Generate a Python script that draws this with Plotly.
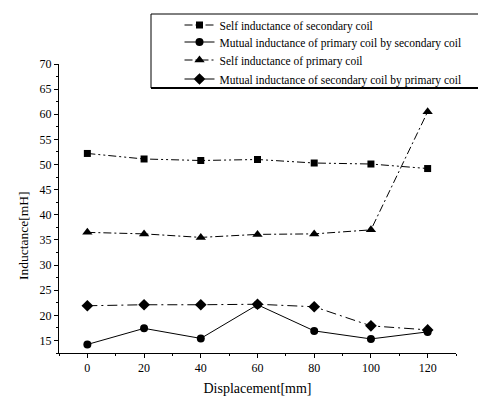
import plotly.graph_objects as go

displacement = [0, 20, 40, 60, 80, 100, 120]
self_secondary = [52.2, 51.1, 50.8, 51.0, 50.3, 50.1, 49.2]
mutual_primary_by_secondary = [14.2, 17.4, 15.4, 22.1, 16.9, 15.3, 16.7]
self_primary = [36.5, 36.2, 35.5, 36.1, 36.2, 37.0, 60.5]
mutual_secondary_by_primary = [21.9, 22.1, 22.1, 22.2, 21.7, 17.9, 17.1]

names = [
    "Self inductance of secondary coil",
    "Mutual inductance of primary coil by secondary coil",
    "Self inductance of primary coil",
    "Mutual inductance of secondary coil by primary coil",
]
y_ticks = [15, 20, 25, 30, 35, 40, 45, 50, 55, 60, 65, 70]
x_ticks = [0, 20, 40, 60, 80, 100, 120]

series = [self_secondary, mutual_primary_by_secondary, self_primary, mutual_secondary_by_primary]
symbols = ["square", "circle", "triangle-up", "diamond"]
sizes = [7, 8, 9, 9]
dashes = ["8px,3px,2px,3px,2px,3px", "solid", "8px,3px,2px,3px", "10px,4px,2px,4px"]
legend_ids = ["legend", "legend2", "legend3", "legend4"]
legend_rows_px = [17, 34, 52, 71]

W, H = 486, 396
L, R, T, B = 51, 38, 56, 51
pw, ph = W - L - R, H - T - B

def px_x(px):
    return (px - L) / pw

def px_y(py):
    return (H - B - py) / ph

fig = go.Figure()
for name, vals, sym, sz, dash, lg in zip(names, series, symbols, sizes, dashes, legend_ids):
    fig.add_trace(go.Scatter(
        x=displacement, y=vals, name=name, mode="lines+markers",
        line=dict(color="black", width=1, dash=dash),
        marker=dict(symbol=sym, size=sz, color="black"),
        hoverinfo="skip", legend=lg,
    ))

legend_font = dict(family="Liberation Serif", size=11.5, color="black")
legends = {}
for lg, row in zip(legend_ids, legend_rows_px):
    legends[lg] = dict(
        x=px_x(171.5), y=px_y(row), xanchor="left", yanchor="middle",
        bgcolor="rgba(0,0,0,0)", borderwidth=0, font=legend_font,
        itemwidth=30,
    )

axis_font = dict(family="Liberation Serif", size=12, color="black")
fig.update_layout(
    width=W, height=H,
    margin=dict(l=L, r=R, t=T, b=B, autoexpand=False),
    paper_bgcolor="white", plot_bgcolor="white",
    font=dict(family="Liberation Serif", color="black"),
    showlegend=True,
    xaxis=dict(
        range=[-10, 130], tickmode="array", tickvals=x_ticks,
        ticks="outside", ticklen=4, tickwidth=1, tickcolor="black",
        showline=True, linecolor="black", linewidth=1, mirror=False,
        showgrid=False, zeroline=False, tickfont=axis_font,
        minor=dict(dtick=10, tick0=0, ticks="outside", ticklen=2, tickcolor="black", showgrid=False),
        title=dict(text="Displacement[mm]", font=dict(family="Liberation Serif", size=14, color="black"), standoff=8),
    ),
    yaxis=dict(
        range=[12.5, 70], tickmode="array", tickvals=y_ticks,
        ticks="outside", ticklen=4, tickwidth=1, tickcolor="black",
        showline=True, linecolor="black", linewidth=1, mirror=False,
        showgrid=False, zeroline=False, tickfont=axis_font,
        minor=dict(dtick=2.5, tick0=0, ticks="outside", ticklen=2, tickcolor="black", showgrid=False),
    ),
    annotations=[dict(
        text="Inductance[mH]", textangle=-90, showarrow=False,
        xref="paper", yref="paper", x=px_x(15), y=px_y(228),
        xanchor="center", yanchor="middle",
        font=dict(family="Liberation Serif", size=13.5, color="black"),
    )],
    shapes=[
        dict(type="rect", xref="paper", yref="paper",
             x0=px_x(143), x1=px_x(500), y0=px_y(80), y1=px_y(6),
             line=dict(color="black", width=1), fillcolor="rgba(0,0,0,0)"),
        dict(type="line", xref="paper", yref="paper",
             x0=px_x(143), x1=px_x(500), y0=px_y(80), y1=px_y(80),
             line=dict(color="black", width=2)),
    ],
    **legends,
)

fig.write_html("out.html")
